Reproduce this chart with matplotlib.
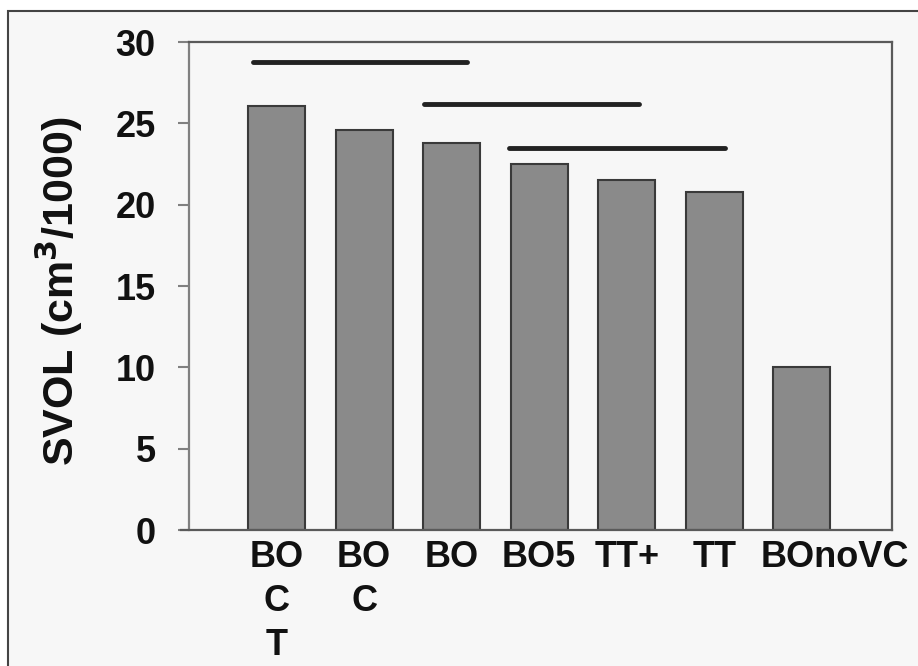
import matplotlib
matplotlib.use('Agg')
import matplotlib.pyplot as plt
from matplotlib.patches import Rectangle
from matplotlib.transforms import ScaledTranslation

plt.rcParams['font.family'] = ['Liberation Sans', 'DejaVu Sans']
plt.rcParams['font.weight'] = 'bold'

# data
groups = ['BO\nC\nT', 'BO\nC', 'BO', 'BO5', 'TT+', 'TT', 'BOnoVC']
svol = [26.05, 24.6, 23.8, 22.5, 21.5, 20.8, 10.0]
# significance bars: (start, end, height)
sig_start = [0.73, 2.68, 3.65]
sig_end = [3.18, 5.14, 6.12]
sig_level = [28.75, 26.2, 23.5]

fig = plt.figure(figsize=(9.18, 6.66), dpi=100)
fig.patch.set_facecolor('white')
# grey panel with border (cropped at bottom/right like the scan)
fig.patches.append(Rectangle((8/918, -0.05), 1.1, 1.05 - 11/666,
                             transform=fig.transFigure, facecolor='#f7f7f7',
                             edgecolor='#444444', lw=1.5, zorder=-10))

ax = fig.add_axes([189/918, 1-530/666, (892-189)/918, (530-42)/666])
ax.set_facecolor('#f7f7f7')

x = range(1, len(groups)+1)
ax.bar(x, svol, width=0.65, color='#8a8a8a', edgecolor='#3a3a3a', linewidth=1.5, zorder=2)

for s, e, h in zip(sig_start, sig_end, sig_level):
    ax.plot([s, e], [h, h], color='#222222', lw=3.5, solid_capstyle='round', zorder=3)

ax.set_xlim(0, 8.03)
ax.set_ylim(0, 30)
ax.set_yticks(range(0, 31, 5))
ax.set_xticks(list(x))
ax.set_xticklabels(groups, linespacing=1.33)

for sp in ax.spines.values():
    sp.set_color('#5a5a5a')
    sp.set_linewidth(1.6)
ax.spines['left'].set_color('#808080')
ax.spines['bottom'].set_bounds(-0.09, 8.03)

ax.tick_params(axis='y', direction='out', length=8, width=1.5, color='#808080',
               labelsize=26, pad=16)
ax.tick_params(axis='x', length=0, labelsize=26, pad=7)
for lab in ax.get_xticklabels() + ax.get_yticklabels():
    lab.set_fontweight('bold')
    lab.set_color('#111111')

# last label sits to the right of its bar, as in the original
last = ax.get_xticklabels()[-1]
last.set_transform(last.get_transform() + ScaledTranslation(0.33, 0, fig.dpi_scale_trans))

ax.set_ylabel('SVOL (cm$^\\mathbf{3}$/1000)', fontsize=31, fontweight='bold', color='#111111')
ax.yaxis.set_label_coords(-0.148, 0.49)

fig.savefig('out.png', dpi=100, facecolor=fig.get_facecolor())
